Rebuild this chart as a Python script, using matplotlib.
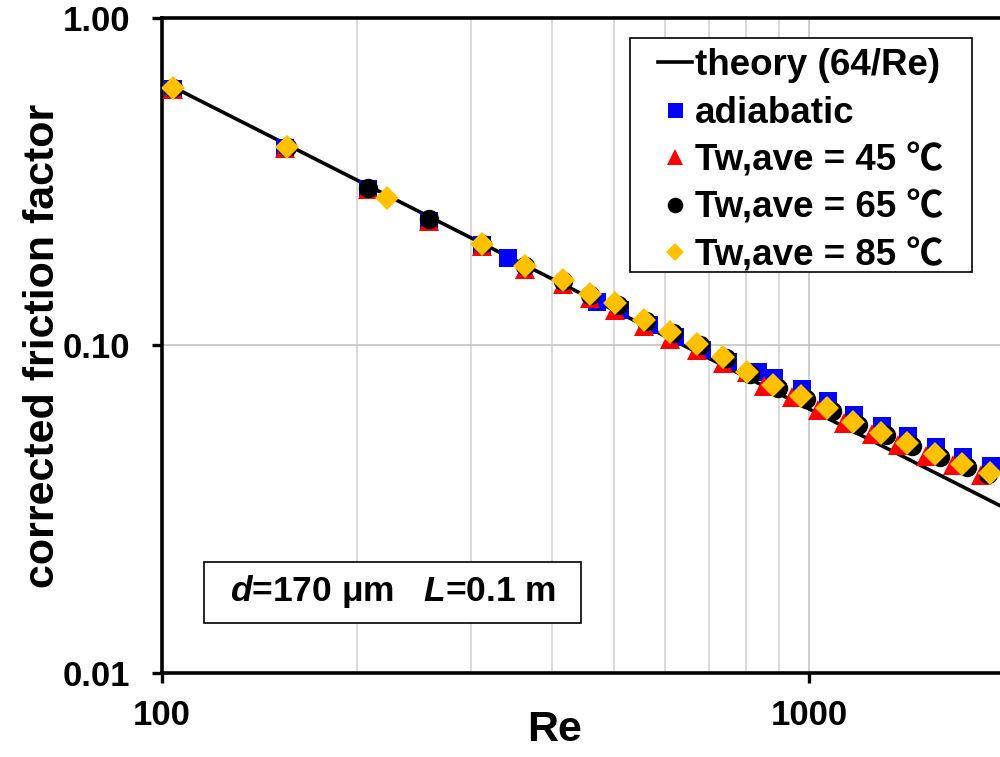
import matplotlib
matplotlib.use("Agg")
import numpy as np
import matplotlib.pyplot as plt
from matplotlib.patches import Rectangle
from matplotlib.ticker import FixedLocator, FixedFormatter, NullFormatter

# Data
re_theory = [104, 156, 208, 259, 312, 364, 417, 458, 506, 560, 616, 679, 744, 811,
             897, 988, 1086, 1192, 1314, 1445, 1593, 1757, 1939, 2100]

re_adiabatic = [104, 155, 208, 259, 312, 342, 470, 510, 565, 621, 684, 750, 835,
                884, 974, 1070, 1175, 1295, 1423, 1570, 1731, 1911]
f_adiabatic = [0.605, 0.400, 0.300, 0.240, 0.202, 0.185, 0.136, 0.128, 0.1155, 0.106,
               0.0969, 0.0891, 0.0830, 0.0795, 0.0736, 0.0675, 0.0614, 0.0569, 0.0528,
               0.0489, 0.0457, 0.0427]

re_45 = [104, 155, 208, 259, 312, 364, 417, 458, 501, 555, 610, 672, 737, 803,
         853, 940, 1033, 1134, 1250, 1374, 1515, 1671, 1844]
f_45 = [0.605, 0.400, 0.300, 0.240, 0.201, 0.171, 0.154, 0.140, 0.1284, 0.1146, 0.105,
        0.0966, 0.0882, 0.0828, 0.0750, 0.0694, 0.0637, 0.0579, 0.0537, 0.0498, 0.0461,
        0.0431, 0.0403]

re_65 = [104, 156, 208, 259, 312, 364, 417, 458, 506, 560, 616, 679, 744, 811,
         897, 988, 1086, 1192, 1314, 1445, 1593, 1757, 1890]
f_65 = [0.610, 0.405, 0.302, 0.243, 0.204, 0.175, 0.157, 0.143, 0.133, 0.119, 0.109,
        0.100, 0.0915, 0.082, 0.0741, 0.0686, 0.0629, 0.0573, 0.0531, 0.0492, 0.0456,
        0.0426, 0.0406]

re_85 = [104, 156, 223, 312, 364, 417, 458, 501, 555, 610, 672, 737, 803, 881, 971,
         1067, 1171, 1291, 1419, 1565, 1726, 1905]
f_85 = [0.610, 0.405, 0.281, 0.204, 0.175, 0.158, 0.144, 0.1345, 0.120, 0.110, 0.1011,
        0.0924, 0.0828, 0.0757, 0.0701, 0.0643, 0.0585, 0.0542, 0.0503, 0.0466, 0.0435,
        0.0407]

x_ticks = [100, 1000]
x_labels = ["100", "1000"]
y_ticks = [0.01, 0.1, 1.0]
y_labels = ["0.01", "0.10", "1.00"]


def main():
    plt.rcParams["font.family"] = ["Liberation Sans", "Noto Sans CJK JP", "DejaVu Sans"]
    plt.rcParams["font.weight"] = "bold"
    plt.rcParams["mathtext.fontset"] = "custom"
    plt.rcParams["mathtext.it"] = "Liberation Sans:italic:bold"
    plt.rcParams["mathtext.rm"] = "Liberation Sans:bold"

    fig = plt.figure(figsize=(10, 7.57), dpi=100)
    ax = fig.add_axes([0.162, 0.111, 0.838, 0.8653])

    theory = 64.0 / np.array(re_theory)
    ax.plot(re_theory, theory, color="black", lw=2.6, label="theory (64/Re)", zorder=3)
    ax.plot(re_adiabatic, f_adiabatic, "s", color="#0000FF", ms=13.5, mew=0,
            label="adiabatic", zorder=4)
    ax.plot(re_45, f_45, "^", color="#FF0000", ms=14, mew=0,
            label="Tw,ave = 45 \u2103", zorder=5)
    ax.plot(re_65, f_65, "o", color="black", ms=14, mew=0,
            label="Tw,ave = 65 \u2103", zorder=6)
    ax.plot(re_85, f_85, "D", color="#FFC000", ms=12, mew=0,
            label="Tw,ave = 85 \u2103", zorder=7)

    ax.set_xscale("log")
    ax.set_yscale("log")
    ax.set_xlim(100, 1973)
    ax.set_ylim(0.01, 1.0)

    ax.xaxis.set_major_locator(FixedLocator(x_ticks))
    ax.xaxis.set_major_formatter(FixedFormatter(x_labels))
    ax.xaxis.set_minor_locator(FixedLocator([200, 300, 400, 500, 600, 700, 800, 900]))
    ax.xaxis.set_minor_formatter(NullFormatter())
    ax.yaxis.set_major_locator(FixedLocator(y_ticks))
    ax.yaxis.set_major_formatter(FixedFormatter(y_labels))
    ax.yaxis.set_minor_locator(FixedLocator([]))

    ax.grid(which="major", color="#c0c0c0", lw=1.1, zorder=0)
    ax.grid(which="minor", axis="x", color="#d0d0d0", lw=1.1, zorder=0)
    ax.set_axisbelow(True)

    for side in ["left", "bottom", "top"]:
        ax.spines[side].set_linewidth(2.6)
        ax.spines[side].set_color("black")
    ax.spines["right"].set_visible(False)

    ax.tick_params(axis="both", which="major", direction="out", length=7, width=2.4,
                   labelsize=25)
    ax.tick_params(axis="x", which="major", pad=12)
    ax.tick_params(axis="y", which="major", pad=16)
    ax.tick_params(axis="x", which="minor", length=0)
    for lab in ax.get_xticklabels() + ax.get_yticklabels():
        lab.set_fontweight("bold")

    ax.set_xlabel("Re", fontsize=31, fontweight="bold")
    ax.set_ylabel("corrected friction factor", fontsize=31, fontweight="bold")
    ax.xaxis.set_label_coords(0.468, -0.056)
    ax.yaxis.set_label_coords(-0.118, 0.5)

    # legend frame drawn separately (wider side padding than legend allows)
    ax.add_patch(Rectangle((0.630, 1 - 272 / 757), 0.342, 234 / 757,
                           transform=fig.transFigure, facecolor="white",
                           edgecolor="black", lw=1.2, zorder=10, clip_on=False))
    leg = ax.legend(loc="upper left", bbox_to_anchor=(0.658, 1 - 48 / 757),
                    bbox_transform=fig.transFigure, borderaxespad=0, borderpad=0,
                    fontsize=26.5, labelspacing=0.34, handlelength=0.92,
                    handletextpad=0.08, markerscale=0.8, frameon=False)
    leg.set_zorder(11)
    for t in leg.get_texts():
        t.set_fontweight("bold")

    # parameter box
    ax.add_patch(Rectangle((0.050, 0.0763), 0.450, 0.0932, transform=ax.transAxes,
                           facecolor="white", edgecolor="black", lw=1.2, zorder=8))
    ax.text(0.2757, 0.1237, "$d$=170 \u03bcm   $L$=0.1 m", transform=ax.transAxes,
            ha="center", va="center", fontsize=25.5, fontweight="bold", zorder=9)

    fig.savefig("out.png", dpi=100)


if __name__ == "__main__":
    main()
